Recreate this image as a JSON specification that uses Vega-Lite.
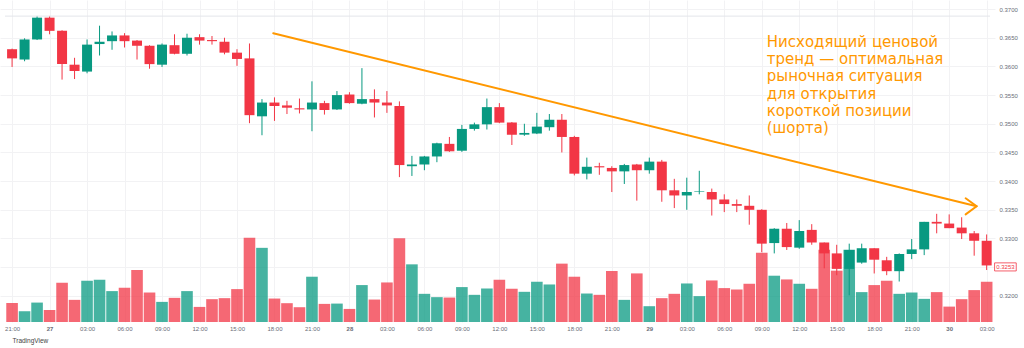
{
  "$schema": "https://vega.github.io/schema/vega-lite/v6.json",
  "width": 1024,
  "height": 348,
  "autosize": {"type": "fit", "contains": "padding"},
  "padding": {"left": 0, "top": 0, "right": 6, "bottom": 4},
  "background": "white",
  "config": {"view": {"stroke": null}},
  "data": {"values": [
    {"t": "2023-11-26T21:00:00Z", "open": 0.3630, "high": 0.3631, "low": 0.3599, "close": 0.3614, "vol": 190},
    {"t": "2023-11-26T22:00:00Z", "open": 0.3612, "high": 0.3649, "low": 0.3609, "close": 0.3647, "vol": 107},
    {"t": "2023-11-26T23:00:00Z", "open": 0.3647, "high": 0.3688, "low": 0.3646, "close": 0.3685, "vol": 193},
    {"t": "2023-11-27T00:00:00Z", "open": 0.3685, "high": 0.3688, "low": 0.3656, "close": 0.3662, "vol": 120},
    {"t": "2023-11-27T01:00:00Z", "open": 0.3662, "high": 0.3663, "low": 0.3577, "close": 0.3604, "vol": 390},
    {"t": "2023-11-27T02:00:00Z", "open": 0.3603, "high": 0.3615, "low": 0.3578, "close": 0.3592, "vol": 220},
    {"t": "2023-11-27T03:00:00Z", "open": 0.3591, "high": 0.3647, "low": 0.3588, "close": 0.3638, "vol": 410},
    {"t": "2023-11-27T04:00:00Z", "open": 0.3639, "high": 0.3671, "low": 0.3619, "close": 0.3643, "vol": 420},
    {"t": "2023-11-27T05:00:00Z", "open": 0.3644, "high": 0.3661, "low": 0.3629, "close": 0.3654, "vol": 307},
    {"t": "2023-11-27T06:00:00Z", "open": 0.3654, "high": 0.3658, "low": 0.3633, "close": 0.3644, "vol": 340},
    {"t": "2023-11-27T07:00:00Z", "open": 0.3645, "high": 0.3646, "low": 0.3612, "close": 0.3636, "vol": 517},
    {"t": "2023-11-27T08:00:00Z", "open": 0.3636, "high": 0.3637, "low": 0.3596, "close": 0.3604, "vol": 293},
    {"t": "2023-11-27T09:00:00Z", "open": 0.3603, "high": 0.3640, "low": 0.3599, "close": 0.3638, "vol": 200},
    {"t": "2023-11-27T10:00:00Z", "open": 0.3637, "high": 0.3656, "low": 0.3621, "close": 0.3622, "vol": 240},
    {"t": "2023-11-27T11:00:00Z", "open": 0.3622, "high": 0.3657, "low": 0.3619, "close": 0.3650, "vol": 307},
    {"t": "2023-11-27T12:00:00Z", "open": 0.3651, "high": 0.3656, "low": 0.3638, "close": 0.3645, "vol": 150},
    {"t": "2023-11-27T13:00:00Z", "open": 0.3646, "high": 0.3653, "low": 0.3638, "close": 0.3644, "vol": 227},
    {"t": "2023-11-27T14:00:00Z", "open": 0.3643, "high": 0.3650, "low": 0.3621, "close": 0.3624, "vol": 237},
    {"t": "2023-11-27T15:00:00Z", "open": 0.3624, "high": 0.3630, "low": 0.3601, "close": 0.3613, "vol": 327},
    {"t": "2023-11-27T16:00:00Z", "open": 0.3614, "high": 0.3640, "low": 0.3501, "close": 0.3515, "vol": 837},
    {"t": "2023-11-27T17:00:00Z", "open": 0.3513, "high": 0.3543, "low": 0.3480, "close": 0.3537, "vol": 737},
    {"t": "2023-11-27T18:00:00Z", "open": 0.3537, "high": 0.3546, "low": 0.3505, "close": 0.3531, "vol": 233},
    {"t": "2023-11-27T19:00:00Z", "open": 0.3532, "high": 0.3540, "low": 0.3517, "close": 0.3528, "vol": 187},
    {"t": "2023-11-27T20:00:00Z", "open": 0.3527, "high": 0.3544, "low": 0.3518, "close": 0.3525, "vol": 147},
    {"t": "2023-11-27T21:00:00Z", "open": 0.3525, "high": 0.3574, "low": 0.3487, "close": 0.3537, "vol": 450},
    {"t": "2023-11-27T22:00:00Z", "open": 0.3536, "high": 0.3540, "low": 0.3516, "close": 0.3524, "vol": 180},
    {"t": "2023-11-27T23:00:00Z", "open": 0.3525, "high": 0.3557, "low": 0.3524, "close": 0.3550, "vol": 183},
    {"t": "2023-11-28T00:00:00Z", "open": 0.3551, "high": 0.3555, "low": 0.3535, "close": 0.3536, "vol": 130},
    {"t": "2023-11-28T01:00:00Z", "open": 0.3535, "high": 0.3597, "low": 0.3534, "close": 0.3543, "vol": 367},
    {"t": "2023-11-28T02:00:00Z", "open": 0.3543, "high": 0.3560, "low": 0.3511, "close": 0.3537, "vol": 223},
    {"t": "2023-11-28T03:00:00Z", "open": 0.3537, "high": 0.3557, "low": 0.3519, "close": 0.3532, "vol": 393},
    {"t": "2023-11-28T04:00:00Z", "open": 0.3531, "high": 0.3539, "low": 0.3407, "close": 0.3428, "vol": 833},
    {"t": "2023-11-28T05:00:00Z", "open": 0.3426, "high": 0.3444, "low": 0.3409, "close": 0.3429, "vol": 573},
    {"t": "2023-11-28T06:00:00Z", "open": 0.3429, "high": 0.3444, "low": 0.3419, "close": 0.3443, "vol": 280},
    {"t": "2023-11-28T07:00:00Z", "open": 0.3443, "high": 0.3467, "low": 0.3433, "close": 0.3466, "vol": 247},
    {"t": "2023-11-28T08:00:00Z", "open": 0.3465, "high": 0.3477, "low": 0.3451, "close": 0.3452, "vol": 243},
    {"t": "2023-11-28T09:00:00Z", "open": 0.3453, "high": 0.3498, "low": 0.3451, "close": 0.3491, "vol": 347},
    {"t": "2023-11-28T10:00:00Z", "open": 0.3491, "high": 0.3502, "low": 0.3488, "close": 0.3499, "vol": 270},
    {"t": "2023-11-28T11:00:00Z", "open": 0.3499, "high": 0.3544, "low": 0.3490, "close": 0.3529, "vol": 333},
    {"t": "2023-11-28T12:00:00Z", "open": 0.3529, "high": 0.3536, "low": 0.3501, "close": 0.3502, "vol": 420},
    {"t": "2023-11-28T13:00:00Z", "open": 0.3502, "high": 0.3503, "low": 0.3463, "close": 0.3481, "vol": 330},
    {"t": "2023-11-28T14:00:00Z", "open": 0.3481, "high": 0.3500, "low": 0.3479, "close": 0.3484, "vol": 300},
    {"t": "2023-11-28T15:00:00Z", "open": 0.3483, "high": 0.3519, "low": 0.3482, "close": 0.3495, "vol": 400},
    {"t": "2023-11-28T16:00:00Z", "open": 0.3494, "high": 0.3517, "low": 0.3488, "close": 0.3507, "vol": 373},
    {"t": "2023-11-28T17:00:00Z", "open": 0.3507, "high": 0.3517, "low": 0.3450, "close": 0.3477, "vol": 580},
    {"t": "2023-11-28T18:00:00Z", "open": 0.3477, "high": 0.3479, "low": 0.3410, "close": 0.3413, "vol": 450},
    {"t": "2023-11-28T19:00:00Z", "open": 0.3413, "high": 0.3441, "low": 0.3403, "close": 0.3425, "vol": 283},
    {"t": "2023-11-28T20:00:00Z", "open": 0.3426, "high": 0.3432, "low": 0.3411, "close": 0.3424, "vol": 270},
    {"t": "2023-11-28T21:00:00Z", "open": 0.3423, "high": 0.3426, "low": 0.3381, "close": 0.3417, "vol": 507},
    {"t": "2023-11-28T22:00:00Z", "open": 0.3417, "high": 0.3430, "low": 0.3395, "close": 0.3428, "vol": 220},
    {"t": "2023-11-28T23:00:00Z", "open": 0.3429, "high": 0.3430, "low": 0.3366, "close": 0.3419, "vol": 483},
    {"t": "2023-11-29T00:00:00Z", "open": 0.3419, "high": 0.3441, "low": 0.3413, "close": 0.3434, "vol": 157},
    {"t": "2023-11-29T01:00:00Z", "open": 0.3434, "high": 0.3437, "low": 0.3364, "close": 0.3384, "vol": 237},
    {"t": "2023-11-29T02:00:00Z", "open": 0.3384, "high": 0.3404, "low": 0.3353, "close": 0.3375, "vol": 280},
    {"t": "2023-11-29T03:00:00Z", "open": 0.3375, "high": 0.3406, "low": 0.3350, "close": 0.3381, "vol": 383},
    {"t": "2023-11-29T04:00:00Z", "open": 0.3381, "high": 0.3418, "low": 0.3377, "close": 0.3382, "vol": 257},
    {"t": "2023-11-29T05:00:00Z", "open": 0.3381, "high": 0.3387, "low": 0.3340, "close": 0.3368, "vol": 413},
    {"t": "2023-11-29T06:00:00Z", "open": 0.3368, "high": 0.3377, "low": 0.3346, "close": 0.3360, "vol": 337},
    {"t": "2023-11-29T07:00:00Z", "open": 0.3360, "high": 0.3368, "low": 0.3346, "close": 0.3357, "vol": 323},
    {"t": "2023-11-29T08:00:00Z", "open": 0.3357, "high": 0.3375, "low": 0.3324, "close": 0.3350, "vol": 380},
    {"t": "2023-11-29T09:00:00Z", "open": 0.3350, "high": 0.3351, "low": 0.3276, "close": 0.3291, "vol": 687},
    {"t": "2023-11-29T10:00:00Z", "open": 0.3292, "high": 0.3318, "low": 0.3274, "close": 0.3317, "vol": 460},
    {"t": "2023-11-29T11:00:00Z", "open": 0.3317, "high": 0.3327, "low": 0.3280, "close": 0.3285, "vol": 423},
    {"t": "2023-11-29T12:00:00Z", "open": 0.3284, "high": 0.3332, "low": 0.3282, "close": 0.3313, "vol": 380},
    {"t": "2023-11-29T13:00:00Z", "open": 0.3315, "high": 0.3325, "low": 0.3289, "close": 0.3293, "vol": 330},
    {"t": "2023-11-29T14:00:00Z", "open": 0.3293, "high": 0.3293, "low": 0.3248, "close": 0.3274, "vol": 717},
    {"t": "2023-11-29T15:00:00Z", "open": 0.3274, "high": 0.3289, "low": 0.3236, "close": 0.3247, "vol": 510},
    {"t": "2023-11-29T16:00:00Z", "open": 0.3247, "high": 0.3291, "low": 0.3201, "close": 0.3280, "vol": 717},
    {"t": "2023-11-29T17:00:00Z", "open": 0.3258, "high": 0.3291, "low": 0.3256, "close": 0.3283, "vol": 297},
    {"t": "2023-11-29T18:00:00Z", "open": 0.3283, "high": 0.3283, "low": 0.3239, "close": 0.3263, "vol": 367},
    {"t": "2023-11-29T19:00:00Z", "open": 0.3262, "high": 0.3268, "low": 0.3236, "close": 0.3243, "vol": 410},
    {"t": "2023-11-29T20:00:00Z", "open": 0.3243, "high": 0.3274, "low": 0.3225, "close": 0.3273, "vol": 280},
    {"t": "2023-11-29T21:00:00Z", "open": 0.3273, "high": 0.3299, "low": 0.3264, "close": 0.3281, "vol": 293},
    {"t": "2023-11-29T22:00:00Z", "open": 0.3281, "high": 0.3329, "low": 0.3271, "close": 0.3329, "vol": 230},
    {"t": "2023-11-29T23:00:00Z", "open": 0.3329, "high": 0.3343, "low": 0.3309, "close": 0.3326, "vol": 297},
    {"t": "2023-11-30T00:00:00Z", "open": 0.3326, "high": 0.3342, "low": 0.3318, "close": 0.3318, "vol": 153},
    {"t": "2023-11-30T01:00:00Z", "open": 0.3319, "high": 0.3337, "low": 0.3299, "close": 0.3309, "vol": 227},
    {"t": "2023-11-30T02:00:00Z", "open": 0.3309, "high": 0.3313, "low": 0.3270, "close": 0.3296, "vol": 317},
    {"t": "2023-11-30T03:00:00Z", "open": 0.3296, "high": 0.3307, "low": 0.3245, "close": 0.3253, "vol": 400}
  ]},
  "encoding": {
    "x": {
      "field": "t",
      "type": "temporal",
      "scale": {
        "domain": [
          {"year": 2023, "month": 11, "date": 26, "hours": 20, "minutes": 26},
          {"year": 2023, "month": 11, "date": 30, "hours": 3, "minutes": 16}
        ],
        "nice": false
      },
      "axis": {
        "title": "TradingView",
        "titleAnchor": "start",
        "titleAlign": "left",
        "titleX": 12,
        "titleFont": "Liberation Sans",
        "titleFontSize": 6.5,
        "titleFontWeight": "normal",
        "titleColor": "#444444",
        "titlePadding": 6,
        "labelExpr": "hours(datum.value) == 0 ? timeFormat(datum.value, '%d') : timeFormat(datum.value, '%H:%M')",
        "labelFontWeight": {"condition": {"test": "hours(datum.value) == 0", "value": "bold"}, "value": "normal"},
        "labelFont": "Liberation Sans",
        "labelFontSize": 6,
        "labelColor": "#6a6d78",
        "labelPadding": 3,
        "labelFlush": false,
        "grid": true,
        "gridColor": "#f2f2f4",
        "domain": false,
        "ticks": false
      }
    }
  },
  "layer": [
    {
      "mark": {"type": "bar", "size": 11.6, "opacity": 0.75},
      "encoding": {
        "y": {"field": "vol", "type": "quantitative", "scale": {"domain": [0, 3200], "nice": false}, "axis": null},
        "color": {"condition": {"test": "datum.close >= datum.open", "value": "#089981"}, "value": "#F23645"}
      }
    },
    {
      "mark": {"type": "rule", "strokeWidth": 1},
      "encoding": {
        "y": {
          "field": "low",
          "type": "quantitative",
          "scale": {"domain": [0.315439, 0.371579], "nice": false, "zero": false},
          "axis": {
            "orient": "right",
            "title": null,
            "values": [0.32, 0.325, 0.33, 0.335, 0.34, 0.345, 0.35, 0.355, 0.36, 0.365, 0.37],
            "format": ".4f",
            "labelExpr": "abs(datum.value - 0.325) < 0.0001 ? '' : datum.label",
            "labelFont": "Liberation Sans",
            "labelFontSize": 6,
            "labelColor": "#6a6d78",
            "labelPadding": 4,
            "grid": true,
            "gridColor": "#f2f2f4",
            "domain": false,
            "ticks": false
          }
        },
        "y2": {"field": "high"},
        "color": {"condition": {"test": "datum.close >= datum.open", "value": "#089981"}, "value": "#F23645"}
      }
    },
    {
      "mark": {"type": "bar", "size": 10},
      "encoding": {
        "y": {"field": "open", "type": "quantitative", "scale": {"domain": [0.315439, 0.371579], "nice": false, "zero": false}, "axis": null},
        "y2": {"field": "close"},
        "color": {"condition": {"test": "datum.close >= datum.open", "value": "#089981"}, "value": "#F23645"}
      }
    },
    {
      "data": {"values": [{"t": "2023-11-26T20:26:00Z", "t2": "2023-11-30T03:16:00Z", "p": 0.36877}]},
      "mark": {"type": "rule", "color": "#e3e5ea", "strokeWidth": 1},
      "encoding": {
        "x2": {"field": "t2"},
        "y": {"field": "p", "type": "quantitative", "scale": {"domain": [0.315439, 0.371579], "nice": false, "zero": false}, "axis": null}
      }
    },
    {
      "data": {"values": [
        {"t": "2023-11-27T17:54:00Z", "p": 0.36579, "seg": "line", "k": 1},
        {"t": "2023-11-30T02:12:00Z", "p": 0.33562, "seg": "line", "k": 2},
        {"t": "2023-11-30T01:19:00Z", "p": 0.33702, "seg": "arrow", "k": 1},
        {"t": "2023-11-30T02:12:00Z", "p": 0.33562, "seg": "arrow", "k": 2},
        {"t": "2023-11-30T01:19:00Z", "p": 0.33421, "seg": "arrow", "k": 3}
      ]},
      "mark": {"type": "line", "color": "#FF9800", "strokeWidth": 2, "strokeCap": "round", "strokeJoin": "round"},
      "encoding": {
        "y": {"field": "p", "type": "quantitative", "scale": {"domain": [0.315439, 0.371579], "nice": false, "zero": false}, "axis": null},
        "detail": {"field": "seg", "type": "nominal"},
        "order": {"field": "k", "type": "quantitative"}
      }
    },
    {
      "data": {"values": [
        {"t": "2023-11-29T09:24:00Z", "p": 0.36342, "label": "Нисходящий ценовой\nтренд — оптимальная\nрыночная ситуация\nдля открытия\nкороткой позиции\n(шорта)"}
      ]},
      "mark": {"type": "text", "align": "left", "baseline": "alphabetic", "lineBreak": "\n", "lineHeight": 17.3, "font": "DejaVu Sans", "fontSize": 15, "color": "#FF9800"},
      "encoding": {
        "y": {"field": "p", "type": "quantitative", "scale": {"domain": [0.315439, 0.371579], "nice": false, "zero": false}, "axis": null},
        "text": {"field": "label", "type": "nominal"}
      }
    },
    {
      "data": {"values": [{"t": "2023-11-30T03:38:00Z", "t2": "2023-11-30T05:22:00Z", "p": 0.32575, "p2": 0.32434}]},
      "mark": {"type": "rect", "fill": "white", "stroke": "#F23645", "strokeWidth": 0.8},
      "encoding": {
        "x2": {"field": "t2"},
        "y": {"field": "p", "type": "quantitative", "scale": {"domain": [0.315439, 0.371579], "nice": false, "zero": false}, "axis": null},
        "y2": {"field": "p2"}
      }
    },
    {
      "data": {"values": [{"t": "2023-11-30T04:30:00Z", "p": 0.32505, "label": "0.3253"}]},
      "mark": {"type": "text", "align": "center", "baseline": "middle", "font": "Liberation Sans", "fontSize": 6, "color": "#F23645"},
      "encoding": {
        "y": {"field": "p", "type": "quantitative", "scale": {"domain": [0.315439, 0.371579], "nice": false, "zero": false}, "axis": null},
        "text": {"field": "label", "type": "nominal"}
      }
    }
  ],
  "resolve": {"scale": {"y": "independent"}}
}
